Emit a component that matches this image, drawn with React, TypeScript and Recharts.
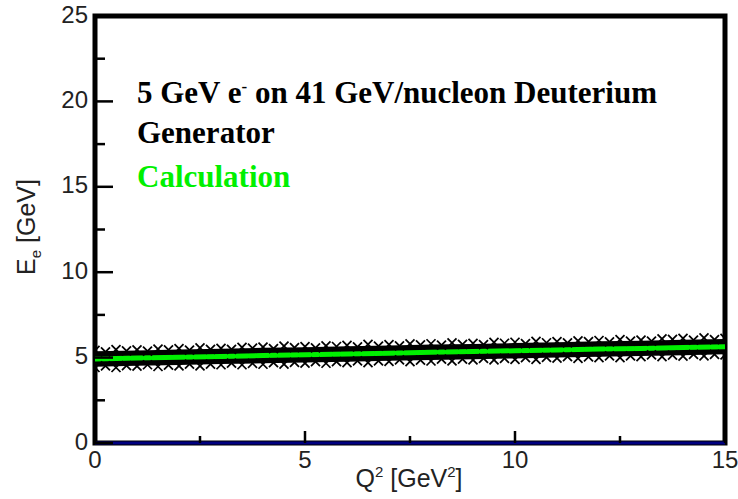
import { Area, ComposedChart, Line, ReferenceArea, ReferenceLine, Scatter, XAxis, YAxis } from "recharts";

// grid of Q^2 values used for the band core and the calculation curve
const q2Grid = [0, 1, 2, 3, 4, 5, 6, 7, 8, 9, 10, 11, 12, 13, 14, 15];
const calcValues = [4.92, 4.97, 5.02, 5.07, 5.12, 5.16, 5.21, 5.26, 5.31, 5.35, 5.40, 5.45, 5.50, 5.54, 5.59, 5.64];
const bandLow = [4.47, 4.52, 4.57, 4.62, 4.67, 4.71, 4.76, 4.81, 4.86, 4.90, 4.95, 5.00, 5.05, 5.09, 5.14, 5.19];
const bandHigh = [5.37, 5.42, 5.47, 5.52, 5.57, 5.61, 5.66, 5.71, 5.76, 5.80, 5.85, 5.90, 5.95, 5.99, 6.04, 6.09];

// generator events along the ragged edges of the band
const edgeQ2 = [0, 0.25, 0.5, 0.75, 1, 1.25, 1.5, 1.75, 2, 2.25, 2.5, 2.75, 3, 3.25, 3.5, 3.75, 4, 4.25, 4.5, 4.75, 5, 5.25, 5.5, 5.75, 6, 6.25, 6.5, 6.75, 7, 7.25, 7.5, 7.75, 8, 8.25, 8.5, 8.75, 9, 9.25, 9.5, 9.75, 10, 10.25, 10.5, 10.75, 11, 11.25, 11.5, 11.75, 12, 12.25, 12.5, 12.75, 13, 13.25, 13.5, 13.75, 14, 14.25, 14.5, 14.75, 15];
const upperE = [5.42, 5.34, 5.47, 5.39, 5.45, 5.38, 5.50, 5.45, 5.52, 5.44, 5.57, 5.48, 5.54, 5.48, 5.60, 5.55, 5.61, 5.53, 5.67, 5.58, 5.64, 5.57, 5.69, 5.65, 5.71, 5.63, 5.78, 5.67, 5.76, 5.69, 5.80, 5.74, 5.81, 5.73, 5.86, 5.77, 5.83, 5.76, 5.89, 5.84, 5.90, 5.82, 5.95, 5.87, 5.93, 5.86, 5.98, 5.93, 6.00, 5.92, 6.05, 5.96, 6.02, 5.96, 6.10, 6.07, 6.12, 6.02, 6.15, 6.05, 6.12];
const lowerE = [4.42, 4.52, 4.42, 4.53, 4.50, 4.58, 4.48, 4.56, 4.52, 4.62, 4.52, 4.62, 4.58, 4.68, 4.58, 4.66, 4.61, 4.71, 4.62, 4.72, 4.68, 4.77, 4.67, 4.76, 4.71, 4.81, 4.71, 4.81, 4.78, 4.87, 4.77, 4.85, 4.80, 4.91, 4.81, 4.91, 4.87, 4.96, 4.87, 4.95, 4.90, 5.00, 4.90, 5.01, 4.97, 5.06, 4.96, 5.04, 5.00, 5.10, 5.00, 5.10, 5.06, 5.16, 5.06, 5.14, 5.09, 5.19, 5.10, 5.19, 5.16];

const xTicks = [0, 2.5, 5, 7.5, 10, 12.5, 15];
const yTicks = [0, 2.5, 5, 7.5, 10, 12.5, 15, 17.5, 20, 22.5, 25];

const W = 738;
const H = 499;
const PLOT_LEFT = 95;
const PLOT_RIGHT = 725;
const PLOT_TOP = 16;
const PLOT_BOTTOM = 443;

const sansFont = "'Liberation Sans', Arial, sans-serif";
const serifFont = "'Liberation Serif', 'Times New Roman', serif";

const table = q2Grid.map((q, i) => ({ q, band: [bandLow[i], bandHigh[i]], calc: calcValues[i] }));
const upperPts = edgeQ2.map((q, i) => ({ q, e: upperE[i] }));
const lowerPts = edgeQ2.map((q, i) => ({ q, e: lowerE[i] }));

const XMark = (props: any) => {
	const { cx, cy } = props;
	const s = 4.5;
	return (
		<g stroke="#000" strokeWidth={1.7}>
			<line x1={cx - s} y1={cy - s} x2={cx + s} y2={cy + s} />
			<line x1={cx - s} y1={cy + s} x2={cx + s} y2={cy - s} />
		</g>
	);
};

const XTick = (props: any) => {
	const { x, payload } = props;
	const v = payload.value;
	const major = v % 5 === 0;
	return (
		<g>
			<line x1={x} x2={x} y1={PLOT_BOTTOM} y2={PLOT_BOTTOM - (major ? 12 : 7)} stroke="#000" strokeWidth={2.5} />
			{major && (
				<text x={x} y={PLOT_BOTTOM + 16} textAnchor="middle" dominantBaseline="central" fontFamily={sansFont} fontSize={24} fill="#222">
					{v}
				</text>
			)}
		</g>
	);
};

const YTick = (props: any) => {
	const { y, payload } = props;
	const v = payload.value;
	const major = v % 5 === 0;
	return (
		<g>
			<line x1={PLOT_LEFT} x2={PLOT_LEFT + (major ? 18 : 10)} y1={y} y2={y} stroke="#000" strokeWidth={2.5} />
			{major && (
				<text x={PLOT_LEFT - 7} y={y - 2} textAnchor="end" dominantBaseline="central" fontFamily={sansFont} fontSize={24} fill="#222">
					{v}
				</text>
			)}
		</g>
	);
};

const noteStyle = {
	position: "absolute" as const,
	left: 137,
	fontFamily: serifFont,
	fontWeight: "bold" as const,
	fontSize: 31,
	lineHeight: "36px",
	whiteSpace: "nowrap" as const,
};

const App = () => {
	return (
		<div style={{ position: "absolute", left: 0, top: 0, width: W, height: H, background: "#fff" }}>
			<ComposedChart
				width={W}
				height={H}
				data={table}
				margin={{ top: PLOT_TOP, right: W - PLOT_RIGHT, left: PLOT_LEFT - 60, bottom: H - PLOT_BOTTOM - 40 }}
			>
				<XAxis type="number" dataKey="q" domain={[0, 15]} ticks={xTicks} interval={0} height={40} axisLine={false} tickLine={false} tick={<XTick />} allowDataOverflow />
				<YAxis type="number" domain={[0, 25]} ticks={yTicks} interval={0} width={60} axisLine={false} tickLine={false} tick={<YTick />} allowDataOverflow />
				<Area dataKey="band" stroke="none" fill="#000" fillOpacity={1} isAnimationActive={false} />
				<Scatter data={upperPts} dataKey="e" shape={<XMark />} isAnimationActive={false} />
				<Scatter data={lowerPts} dataKey="e" shape={<XMark />} isAnimationActive={false} />
				<Line dataKey="calc" stroke="#00f000" strokeWidth={5} dot={false} isAnimationActive={false} />
				<ReferenceArea x1={0} x2={15} y1={0} y2={25} fill="none" stroke="#000" strokeWidth={5} />
				<ReferenceLine y={0} stroke="#000080" strokeWidth={3} />
			</ComposedChart>
			<div style={{ ...noteStyle, top: 75, color: "#000" }}>
				5 GeV e<span style={{ fontSize: 17, verticalAlign: "super", lineHeight: 0 }}>-</span> on 41 GeV/nucleon Deuterium
			</div>
			<div style={{ ...noteStyle, top: 115, color: "#000" }}>Generator</div>
			<div style={{ ...noteStyle, top: 159, color: "#00f000" }}>Calculation</div>
			<div style={{ position: "absolute", left: 409, top: 478, transform: "translate(-50%, -50%)", fontFamily: sansFont, fontSize: 25, color: "#222", whiteSpace: "nowrap" }}>
				Q<span style={{ fontSize: 15, verticalAlign: "super", lineHeight: 0 }}>2</span> [GeV<span style={{ fontSize: 15, verticalAlign: "super", lineHeight: 0 }}>2</span>]
			</div>
			<div style={{ position: "absolute", left: 26, top: 227, transform: "translate(-50%, -50%) rotate(-90deg)", fontFamily: sansFont, fontSize: 25, color: "#222", whiteSpace: "nowrap" }}>
				E<span style={{ fontSize: 15, verticalAlign: "sub", lineHeight: 0 }}>e</span> [GeV]
			</div>
		</div>
	);
};

export default App;
